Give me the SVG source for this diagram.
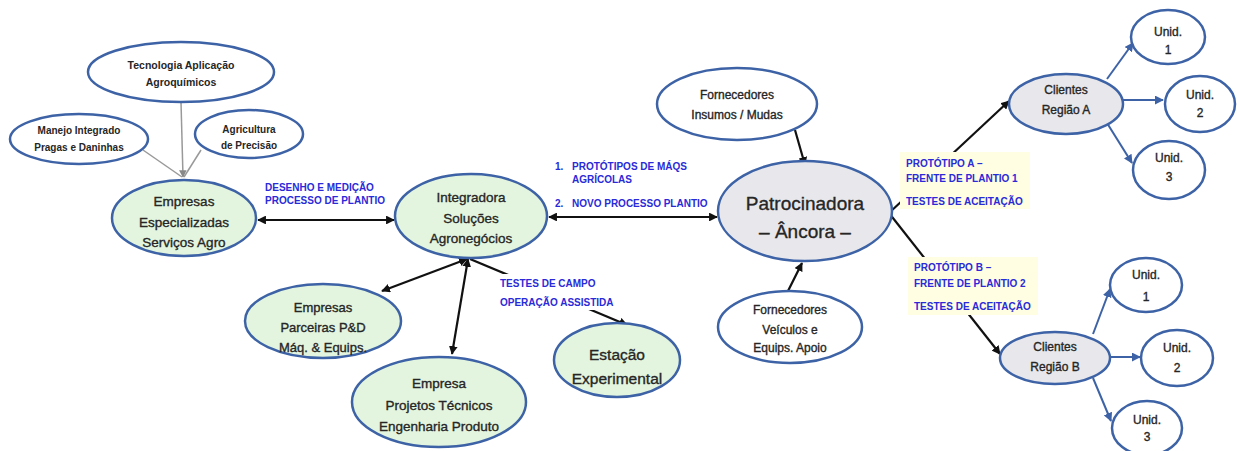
<svg xmlns="http://www.w3.org/2000/svg" width="1237" height="451" viewBox="0 0 1237 451">
<defs>
<marker id="ah" viewBox="0 0 10 10" refX="9" refY="5" markerWidth="4" markerHeight="4" orient="auto-start-reverse"><path d="M0,0 L10,5 L0,10 z" fill="#111"/></marker>
<marker id="ahb" viewBox="0 0 10 10" refX="9" refY="5" markerWidth="4.5" markerHeight="4.5" orient="auto-start-reverse"><path d="M0,0 L10,5 L0,10 z" fill="#3d63a6"/></marker>
<marker id="ahg" viewBox="0 0 10 10" refX="9" refY="5" markerWidth="5" markerHeight="5" orient="auto"><path d="M0,0 L10,5 L0,10 z" fill="#888"/></marker>
<style>
.e{stroke:#3d63a6;stroke-width:2.5}
.g{fill:#e3f5df}
.w{fill:#ffffff}
.s{fill:#e8e8ec}
.t{font-family:"Liberation Sans",Arial,sans-serif;fill:#262626;text-anchor:middle;stroke:#262626;stroke-width:0.35}
.b{font-weight:bold;stroke-width:0}
.lb{font-family:"Liberation Sans",Arial,sans-serif;font-weight:bold;font-size:10px;fill:#2a2ad8}
.k{stroke:#111;stroke-width:2.2;fill:none}
.bl{stroke:#3d63a6;stroke-width:2;fill:none}
.gr{stroke:#999;stroke-width:1.5;fill:none}
</style>
</defs>
<rect width="1237" height="451" fill="#fff"/>
<g id="connectors">
<line class="gr" x1="181" y1="102" x2="183" y2="177" marker-end="url(#ahg)"/>
<line class="gr" x1="143" y1="150" x2="182" y2="177"/>
<line class="gr" x1="201" y1="150" x2="184" y2="177"/>
<line class="k" x1="258" y1="220" x2="394" y2="220" marker-start="url(#ah)" marker-end="url(#ah)"/>
<line class="k" x1="549" y1="217" x2="717" y2="217" marker-start="url(#ah)" marker-end="url(#ah)"/>
<line class="k" x1="795" y1="130" x2="805" y2="165" marker-end="url(#ah)"/>
<line class="k" x1="788" y1="291" x2="802" y2="263" marker-end="url(#ah)"/>
<line class="k" x1="467" y1="259" x2="382" y2="291" marker-start="url(#ah)" marker-end="url(#ah)"/>
<line class="k" x1="468" y1="259" x2="452" y2="354" marker-start="url(#ah)" marker-end="url(#ah)"/>
<line class="k" x1="470" y1="259" x2="627" y2="325" marker-end="url(#ah)"/>
<line class="k" x1="889" y1="213" x2="1009" y2="101" marker-end="url(#ah)"/>
<line class="k" x1="889" y1="213" x2="1000" y2="354" marker-end="url(#ah)"/>
<line class="bl" x1="1107" y1="79" x2="1133" y2="43" marker-end="url(#ahb)"/>
<line class="bl" x1="1123" y1="100" x2="1163" y2="100" marker-end="url(#ahb)"/>
<line class="bl" x1="1107" y1="123" x2="1132" y2="163" marker-end="url(#ahb)"/>
<line class="bl" x1="1093" y1="334" x2="1110" y2="289" marker-end="url(#ahb)"/>
<line class="bl" x1="1110" y1="357" x2="1140" y2="357" marker-end="url(#ahb)"/>
<line class="bl" x1="1093" y1="378" x2="1111" y2="421" marker-end="url(#ahb)"/>
</g>
<g id="labels">
<rect x="497" y="274" width="120" height="36" fill="#fff"/>
<text class="lb" x="265" y="191">DESENHO E MEDIÇÃO</text>
<text class="lb" x="265" y="204">PROCESSO DE PLANTIO</text>
<text class="lb" x="555" y="170">1.</text><text class="lb" x="572" y="170">PROTÓTIPOS DE MÁQS</text>
<text class="lb" x="572" y="183">AGRÍCOLAS</text>
<text class="lb" x="555" y="207">2.</text><text class="lb" x="572" y="207">NOVO PROCESSO PLANTIO</text>
<text class="lb" x="500" y="287">TESTES DE CAMPO</text>
<text class="lb" x="500" y="306">OPERAÇÃO ASSISTIDA</text>
<rect x="900" y="152" width="130" height="57" fill="#fffde2"/>
<text class="lb" x="906" y="167">PROTÓTIPO A –</text>
<text class="lb" x="906" y="182">FRENTE DE PLANTIO 1</text>
<text class="lb" x="906" y="205">TESTES DE ACEITAÇÃO</text>
<rect x="908" y="257" width="130" height="58" fill="#fffde2"/>
<text class="lb" x="914" y="271">PROTÓTIPO B –</text>
<text class="lb" x="914" y="287">FRENTE DE PLANTIO 2</text>
<text class="lb" x="914" y="310">TESTES DE ACEITAÇÃO</text>
</g>
<g id="tecnologia"><ellipse class="e w" cx="181" cy="72" rx="93" ry="30" stroke-width="2"/>
<text class="t b" font-size="10.5"><tspan x="181" y="69">Tecnologia Aplicação</tspan><tspan x="181" y="86">Agroquímicos</tspan></text></g>
<g id="manejo"><ellipse class="e w" cx="79" cy="139" rx="69" ry="25" stroke-width="2"/>
<text class="t b" font-size="10"><tspan x="79" y="134">Manejo Integrado</tspan><tspan x="79" y="151">Pragas e Daninhas</tspan></text></g>
<g id="agricultura"><ellipse class="e w" cx="249" cy="134" rx="54" ry="24" stroke-width="2"/>
<text class="t b" font-size="10"><tspan x="249" y="133">Agricultura</tspan><tspan x="249" y="149">de Precisão</tspan></text></g>
<g id="especializadas"><ellipse class="e g" cx="184" cy="218" rx="72" ry="38"/>
<text class="t" font-size="13.5"><tspan x="184" y="206">Empresas</tspan><tspan x="184" y="227">Especializadas</tspan><tspan x="184" y="247">Serviços Agro</tspan></text></g>
<g id="integradora"><ellipse class="e g" cx="471" cy="216" rx="76" ry="42"/>
<text class="t" font-size="13.5"><tspan x="471" y="202">Integradora</tspan><tspan x="471" y="223">Soluções</tspan><tspan x="471" y="243">Agronegócios</tspan></text></g>
<g id="parceiras"><ellipse class="e g" cx="323" cy="321" rx="78" ry="37"/>
<text class="t" font-size="13"><tspan x="323" y="312">Empresas</tspan><tspan x="323" y="332">Parceiras P&amp;D</tspan><tspan x="323" y="352">Máq. &amp; Equips.</tspan></text></g>
<g id="projetos"><ellipse class="e g" cx="439" cy="402" rx="87" ry="45"/>
<text class="t" font-size="13.5"><tspan x="439" y="388">Empresa</tspan><tspan x="439" y="410">Projetos Técnicos</tspan><tspan x="439" y="431">Engenharia Produto</tspan></text></g>
<g id="estacao"><ellipse class="e g" cx="617" cy="360" rx="63" ry="37"/>
<text class="t" font-size="15.5"><tspan x="617" y="360">Estação</tspan><tspan x="617" y="384">Experimental</tspan></text></g>
<g id="patrocinadora"><ellipse class="e s" cx="805" cy="211" rx="87" ry="50" stroke-width="3"/>
<text class="t" font-size="19"><tspan x="805" y="210">Patrocinadora</tspan><tspan x="805" y="238">– Âncora –</tspan></text></g>
<g id="insumos"><ellipse class="e w" cx="737" cy="104" rx="80" ry="36"/>
<text class="t" font-size="12"><tspan x="737" y="99">Fornecedores</tspan><tspan x="737" y="119">Insumos / Mudas</tspan></text></g>
<g id="veiculos"><ellipse class="e w" cx="790" cy="327" rx="72" ry="36"/>
<text class="t" font-size="12"><tspan x="790" y="314">Fornecedores</tspan><tspan x="790" y="334">Veículos e</tspan><tspan x="790" y="352">Equips. Apoio</tspan></text></g>
<g id="clientesA"><ellipse class="e s" cx="1066" cy="104" rx="57" ry="30"/>
<text class="t" font-size="12"><tspan x="1066" y="94">Clientes</tspan><tspan x="1066" y="114">Região A</tspan></text></g>
<g id="unidA1"><ellipse class="e w" cx="1168" cy="37" rx="37" ry="27"/>
<text class="t" font-size="12"><tspan x="1168" y="36">Unid.</tspan><tspan x="1168" y="54">1</tspan></text></g>
<g id="unidA2"><ellipse class="e w" cx="1200" cy="104" rx="35" ry="28"/>
<text class="t" font-size="12"><tspan x="1200" y="99">Unid.</tspan><tspan x="1200" y="117">2</tspan></text></g>
<g id="unidA3"><ellipse class="e w" cx="1169" cy="170" rx="36" ry="29"/>
<text class="t" font-size="12"><tspan x="1169" y="162">Unid.</tspan><tspan x="1169" y="181">3</tspan></text></g>
<g id="clientesB"><ellipse class="e s" cx="1055" cy="358" rx="55" ry="26"/>
<text class="t" font-size="12"><tspan x="1055" y="351">Clientes</tspan><tspan x="1055" y="371">Região B</tspan></text></g>
<g id="unidB1"><ellipse class="e w" cx="1146" cy="285" rx="36" ry="27"/>
<text class="t" font-size="12"><tspan x="1146" y="279">Unid.</tspan><tspan x="1146" y="301">1</tspan></text></g>
<g id="unidB2"><ellipse class="e w" cx="1177" cy="358" rx="36" ry="28"/>
<text class="t" font-size="12"><tspan x="1177" y="352">Unid.</tspan><tspan x="1177" y="372">2</tspan></text></g>
<g id="unidB3"><ellipse class="e w" cx="1147" cy="428" rx="35" ry="27"/>
<text class="t" font-size="12"><tspan x="1147" y="424">Unid.</tspan><tspan x="1147" y="441">3</tspan></text></g>
</svg>
